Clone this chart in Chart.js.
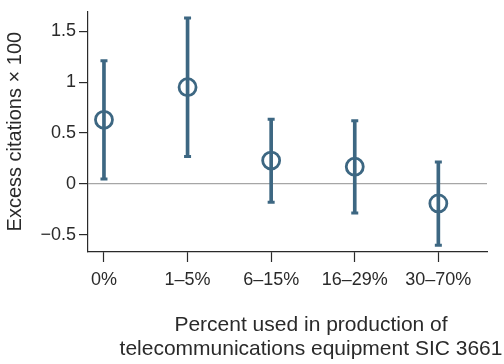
<!DOCTYPE html>
<html>
<head>
<meta charset="utf-8">
<script src="https://cdn.jsdelivr.net/npm/chart.js@4/dist/chart.umd.min.js"></script>
<style>
  html, body { margin: 0; padding: 0; background: #ffffff; }
  canvas { display: block; }
</style>
</head>
<body>
<canvas id="chart" width="504" height="364"></canvas>
<script>
// Share bands of the input used in telecom equipment production
const categories = ['0%', '1–5%', '6–15%', '16–29%', '30–70%'];
// Point estimates and 95% interval bounds (excess citations × 100)
const estimates = [0.63, 0.95, 0.23, 0.17, -0.19];
const upperBounds = [1.21, 1.63, 0.635, 0.62, 0.215];
const lowerBounds = [0.05, 0.27, -0.18, -0.285, -0.60];
// Y-axis range, tick values and their printed labels
const yMin = -0.667;
const yMax = 1.695;
const yTickValues = [-0.5, 0, 0.5, 1, 1.5];
const yTickLabels = ['−0.5', '0', '0.5', '1', '1.5'];
// Two-line caption under the horizontal axis
const xTitleLines = ['Percent used in production of', 'telecommunications equipment SIC 3661'];

const blue = '#3d6782';
const ink = '#2a2a2a';
const fontFamily = '"Liberation Sans", Arial, Helvetica, sans-serif';

const intervalBars = categories.map((c, i) => ({ x: i, y: [lowerBounds[i], upperBounds[i]] }));
const caps = [];
categories.forEach((c, i) => {
  caps.push({ x: i, y: upperBounds[i] });
  caps.push({ x: i, y: lowerBounds[i] });
});
const centers = categories.map((c, i) => ({ x: i, y: estimates[i] }));

// Two-line caption, centred a little right of the plot centre
const xCaption = {
  id: 'xCaption',
  afterDraw(chart) {
    const { ctx, chartArea } = chart;
    ctx.save();
    ctx.fillStyle = ink;
    ctx.font = '21px ' + fontFamily;
    ctx.textAlign = 'center';
    ctx.textBaseline = 'middle';
    const cx = chartArea.left + 223;
    xTitleLines.forEach((line, k) => {
      ctx.fillText(line, cx, chartArea.bottom + 73 + k * 24.5);
    });
    ctx.restore();
  }
};

new Chart(document.getElementById('chart'), {
  type: 'scatter',
  data: {
    datasets: [
      {
        type: 'scatter',
        data: centers,
        order: 0,
        pointStyle: 'circle',
        pointRadius: 8.5,
        pointHoverRadius: 8.5,
        pointBorderWidth: 2.8,
        pointBackgroundColor: 'rgba(0,0,0,0)',
        pointBorderColor: blue
      },
      {
        type: 'scatter',
        data: caps,
        order: 1,
        pointStyle: 'line',
        pointRadius: 3.5,
        pointHoverRadius: 3.5,
        pointBorderWidth: 3,
        pointBorderColor: blue
      },
      {
        type: 'bar',
        data: intervalBars,
        order: 2,
        barThickness: 3,
        backgroundColor: blue,
        borderWidth: 0
      }
    ]
  },
  plugins: [xCaption],
  options: {
    responsive: false,
    animation: false,
    layout: { padding: { top: 4, right: 17, left: 0, bottom: 0 } },
    plugins: { legend: { display: false }, tooltip: { enabled: false } },
    scales: {
      x: {
        type: 'linear',
        offset: false,
        min: -0.191,
        max: 4.582,
        afterBuildTicks: (scale) => { scale.ticks = categories.map((c, i) => ({ value: i })); },
        afterFit: (scale) => { scale.height = 112; scale.paddingLeft = 0; scale.paddingRight = 0; },
        border: { display: true, color: ink, width: 1.2 },
        grid: {
          display: true,
          offset: false,
          drawOnChartArea: false,
          drawTicks: true,
          color: 'rgba(0,0,0,0)',
          tickColor: ink,
          tickLength: 10,
          tickWidth: 1.2
        },
        ticks: {
          autoSkip: false,
          maxRotation: 0,
          padding: 7,
          color: ink,
          font: { family: fontFamily, size: 18 },
          callback: (v) => categories[v]
        },
        title: { display: false }
      },
      y: {
        type: 'linear',
        min: yMin,
        max: yMax,
        afterBuildTicks: (scale) => { scale.ticks = yTickValues.map(v => ({ value: v })); },
        afterFit: (scale) => { scale.width = 88; },
        border: { display: true, color: ink, width: 1.2 },
        grid: {
          display: true,
          drawOnChartArea: true,
          color: (ctx) => (ctx.tick && ctx.tick.value === 0 ? '#a6a6a6' : 'rgba(0,0,0,0)'),
          lineWidth: 1.2,
          tickColor: ink,
          tickLength: 9,
          tickWidth: 1.2
        },
        ticks: {
          padding: 3,
          color: ink,
          font: { family: fontFamily, size: 18, lineHeight: 0.5 },
          callback: (v) => yTickLabels[yTickValues.indexOf(v)]
        },
        title: {
          display: true,
          text: 'Excess citations × 100',
          color: ink,
          font: { family: fontFamily, size: 20, lineHeight: 1.2 },
          padding: { top: 3, bottom: 0 }
        }
      }
    }
  }
});
</script>
</body>
</html>
